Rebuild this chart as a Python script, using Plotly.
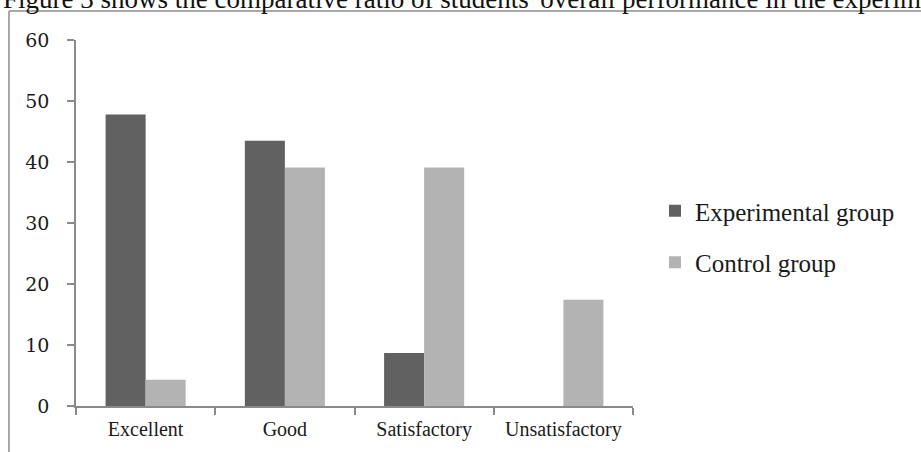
import plotly.graph_objects as go

# Performance categories and share of students (%) in each group
categories = ["Excellent", "Good", "Satisfactory", "Unsatisfactory"]
experimental = [47.8, 43.5, 8.7, 0.0]
control = [4.3, 39.1, 39.1, 17.4]
y_ticks = [0, 10, 20, 30, 40, 50, 60]

W, H = 921, 452
L, R, T, B = 76, 288, 40, 46
pw, ph = W - L - R, H - T - B


def px_x(p):
    return (p - L) / pw


def px_y(p):
    return (H - B - p) / ph


serif = "Liberation Serif, Times New Roman, serif"
axis_col = "#8a8a8a"

fig = go.Figure()
fig.add_trace(go.Bar(
    x=categories, y=experimental, name="Experimental group",
    marker=dict(color="#616161", line=dict(width=0)),
    legendgroup="a",
))
fig.add_trace(go.Bar(
    x=categories, y=control, name="Control group",
    marker=dict(color="#b3b3b3", line=dict(width=0)),
    legendgroup="b",
))

fig.update_layout(
    width=W, height=H,
    margin=dict(l=L, r=R, t=T, b=B, pad=0),
    paper_bgcolor="white", plot_bgcolor="white",
    barmode="group", bargap=0.425, bargroupgap=0,
    font=dict(family=serif, color="#1a1a1a"),
    showlegend=True,
    legend=dict(
        x=px_x(655), xanchor="left",
        y=px_y(188), yanchor="top",
        font=dict(family=serif, size=25, color="#1a1a1a"),
        bgcolor="rgba(0,0,0,0)", borderwidth=0,
        tracegroupgap=16, itemclick=False,
    ),
    xaxis=dict(
        type="category", range=[-0.5, 3.5],
        showline=True, linecolor=axis_col, linewidth=1.5,
        ticks="outside", tickson="boundaries", ticklen=7,
        tickcolor=axis_col, tickwidth=1.5,
        showgrid=False, zeroline=False,
        tickfont=dict(family=serif, size=20, color="#1a1a1a"),
        ticklabelstandoff=4,
    ),
    yaxis=dict(
        range=[0, 60], tickvals=y_ticks,
        showline=True, linecolor=axis_col, linewidth=1.5,
        ticks="outside", ticklen=7, tickcolor=axis_col, tickwidth=1.5,
        showgrid=False, zeroline=False,
        tickfont=dict(family="DejaVu Serif, serif", size=19, color="#1a1a1a"),
        ticklabelstandoff=14,
    ),
)

# frame around the chart area
frame = dict(color="#8c8c8c", width=1.5)
fig.add_shape(type="line", xref="paper", yref="paper",
              x0=px_x(9), x1=px_x(9), y0=px_y(11), y1=px_y(460), line=frame)
fig.add_shape(type="line", xref="paper", yref="paper",
              x0=px_x(9), x1=px_x(940), y0=px_y(11), y1=px_y(11), line=frame)

# running text above the chart
fig.add_annotation(
    xref="paper", yref="paper", x=px_x(1), y=px_y(-1),
    xanchor="left", yanchor="middle", showarrow=False,
    text="Figure 3 shows the comparative ratio of students' overall performance in the experimental and control groups.",
    font=dict(family=serif, size=27, color="#111111"),
)

fig.write_html("out.html")
